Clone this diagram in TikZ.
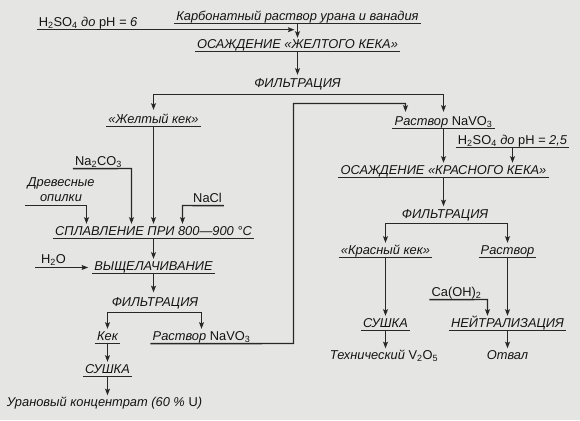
\documentclass[tikz,border=0pt]{standalone}
\usepackage{fontspec}
\setmainfont{Liberation Sans}
\usetikzlibrary{arrows.meta}
\definecolor{pagebg}{RGB}{229,229,227}
\definecolor{ink}{RGB}{40,40,40}
\definecolor{txt}{RGB}{20,20,20}
\newcommand\up[1]{\textup{#1}}
\newcommand\sbs[1]{\textsubscript{#1}}
\begin{document}
\begin{tikzpicture}[x=1bp,y=-1bp,
  lbl/.style={anchor=base, inner xsep=2pt, inner ysep=0pt, text height=9pt, text depth=3.5pt,
    font=\fontsize{12.9}{15}\selectfont\itshape, text=txt},
  wire/.style={draw=ink, line width=1.4pt},
  arr/.style={wire, -{Stealth[length=6.5pt,width=4.8pt,inset=1pt]}, shorten >=2pt},
]
\useasboundingbox[fill=pagebg] (0,0) rectangle (580,420);

% ---- left / top column
\node[lbl] (h2so4a) at (88,26) {\up{H\sbs{2}SO\sbs{4}} до \up{pH} = 6};
\node[lbl] (karb)   at (297.5,20) {Карбонатный раствор урана и ванадия};
\node[lbl] (osazh1) at (297.5,48) {ОСАЖДЕНИЕ «ЖЕЛТОГО КЕКА»};
\node[lbl] (filt1)  at (297.5,87) {ФИЛЬТРАЦИЯ};
\node[lbl] (zhk)    at (153.5,123) {«Желтый кек»};
\node[lbl] (rnv1)   at (443.5,125) {Раствор \up{NaVO\sbs{3}}};
\node[lbl] (na2co3) at (98.5,165) {\up{Na\sbs{2}CO\sbs{3}}};
\node[lbl, anchor=south, align=center] (drev) at (61,205.5) {Древесные\\опилки};
\node[lbl] (nacl)   at (207.5,202) {\up{NaCl}};
\node[lbl] (splav)  at (153.5,235) {СПЛАВЛЕНИЕ ПРИ 800—900 °С};
\node[lbl] (h2o)    at (53.5,263) {\up{H\sbs{2}O}};
\node[lbl] (vysh)   at (153.5,270) {ВЫЩЕЛАЧИВАНИЕ};
\node[lbl] (filt2)  at (155,306.5) {ФИЛЬТРАЦИЯ};
\node[lbl] (kek)    at (107.5,340) {Кек};
\node[lbl] (rnv2)   at (201.5,340) {Раствор \up{NaVO\sbs{3}}};
\node[lbl] (sush1)  at (107.5,373) {СУШКА};
\node[lbl] (uran)   at (104.5,406.5) {Урановый концентрат (60 \% \up{U})};

% ---- right column
\node[lbl] (h2so4b) at (512.5,144) {\up{H\sbs{2}SO\sbs{4}} до \up{pH} = 2,5};
\node[lbl] (osazh2) at (443.5,174) {ОСАЖДЕНИЕ «КРАСНОГО КЕКА»};
\node[lbl] (filt3)  at (445,218.5) {ФИЛЬТРАЦИЯ};
\node[lbl] (krk)    at (385.5,254) {«Красный кек»};
\node[lbl] (rast)   at (507.5,254) {Раствор};
\node[lbl] (caoh)   at (456.5,296) {\up{Ca(OH)\sbs{2}}};
\node[lbl] (sush2)  at (385.5,327) {СУШКА};
\node[lbl] (neut)   at (507.5,327) {НЕЙТРАЛИЗАЦИЯ};
\node[lbl] (tech)   at (384,359.5) {Технический \up{V\sbs{2}O\sbs{5}}};
\node[lbl] (otv)    at (507.5,359.5) {Отвал};

% ---- underlines
\foreach \n in {karb,osazh1,zhk,rnv1,splav,vysh,kek,sush1,h2so4b,osazh2,krk,rast,sush2,neut}
  \draw[wire] (\n.south west) -- (\n.south east);

% ---- helper coordinates
\coordinate (fb1) at (297.5,94.5);
\coordinate (lp1) at (293.5,343.5);
\coordinate (lp2) at (405.5,103.5);
\coordinate (nacorner) at (131.5,168.5);
\coordinate (drcorner) at (86.5,205.5);
\coordinate (clcorner) at (182.5,205.5);
\coordinate (h2ostart) at (35,267.5);
\coordinate (fb2) at (153.5,312.5);
\coordinate (fb3) at (445,223.5);
\coordinate (cacorner) at (487.5,299.5);

% ---- connectors, top
\draw[arr, shorten >=3pt] (h2so4a.south west) -- (h2so4a.south west -| karb.south);
\draw[arr, shorten >=1pt] (karb.south) -- (osazh1.north);
\draw[arr, shorten >=3pt] (osazh1.south) -- (filt1.north);
\draw[arr, shorten >=4pt] (fb1) -| (zhk.north);
\draw[arr, shorten >=4pt] (fb1) -| (rnv1.north);
\draw[arr, shorten >=4pt] (rnv2.south west) -- (lp1) |- (lp2) -- (lp2 |- rnv1.north);

% ---- left column
\draw[arr] (zhk.south) -- (zhk.south |- splav.north);
\draw[arr] (na2co3.south west) -- (nacorner) -- (nacorner |- splav.north);
\draw[arr] (drev.south west) -- (drcorner) -- (drcorner |- splav.north);
\draw[arr] (nacl.south east) -- (clcorner) -- (clcorner |- splav.north);
\draw[arr] (splav.south) -- (splav.south |- vysh.north);
\draw[arr, shorten >=4pt] (h2ostart) -- (h2ostart -| vysh.west);
\draw[arr, shorten >=5pt] (vysh.south) -- (vysh.south |- filt2.north);
\draw[wire] (fb2 -| kek.north) -- (fb2 -| rnv2.north);
\draw[arr] (fb2) -| (kek.north);
\draw[arr] (fb2) -| (rnv2.north);
\draw[arr] (kek.south) -- (sush1.north);
\draw[arr] (sush1.south) -- (sush1.south |- uran.north);

% ---- right column
\draw[arr] (rnv1.south) -- (rnv1.south |- osazh2.north);
\draw[arr] (h2so4b.south) -- (h2so4b.south |- osazh2.north);
\draw[arr, shorten >=3pt] (osazh2.south) -- (osazh2.south |- filt3.north);
\draw[arr] (fb3) -| (krk.north);
\draw[arr] (fb3) -| (rast.north);
\draw[arr] (krk.south) -- (sush2.north);
\draw[arr] (rast.south) -- (neut.north);
\draw[arr] (caoh.south west) -- (cacorner) -- (cacorner |- neut.north);
\draw[arr] (sush2.south) -- (sush2.south |- tech.north);
\draw[arr] (neut.south) -- (otv.north);
\end{tikzpicture}
\end{document}
